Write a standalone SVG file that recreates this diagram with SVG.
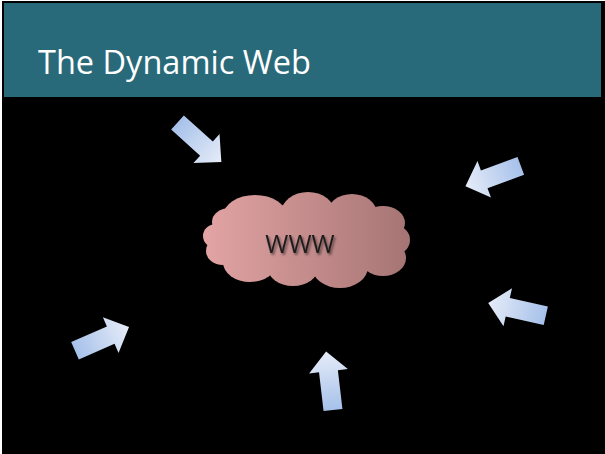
<svg xmlns="http://www.w3.org/2000/svg" width="605" height="454" viewBox="0 0 605 454">
  <defs>
    <linearGradient id="cloudGrad" gradientUnits="userSpaceOnUse" x1="203" y1="0" x2="410" y2="0">
      <stop offset="0" stop-color="#e3a4a4"/>
      <stop offset="1" stop-color="#a67474"/>
    </linearGradient>
    <linearGradient id="arrowGrad" x1="0" y1="0" x2="1" y2="0">
      <stop offset="0" stop-color="#a6c1ea"/>
      <stop offset="1" stop-color="#e6ecf8"/>
    </linearGradient>
    <filter id="txtShadow" x="-20%" y="-30%" width="150%" height="180%">
      <feDropShadow dx="1.5" dy="2" stdDeviation="1.2" flood-color="#000" flood-opacity="0.5"/>
    </filter>
    <polygon id="arrowShape" points="0,-9.5 39,-9.5 39,-19.5 59,0 39,19.5 39,9.5 0,9.5"/>
  </defs>
  <style>
    .title { font-family: "Open Sans", "Liberation Sans", sans-serif; font-size: 32.5px; fill: #ffffff; }
    .label { font-family: "Open Sans", "Liberation Sans", sans-serif; font-size: 25px; fill: #1e1e1e; }
    .arrow { fill: url(#arrowGrad); }
  </style>

  <rect x="0" y="0" width="605" height="454" fill="#ffffff"/>
  <rect x="2" y="1" width="603" height="453" fill="#000000"/>
  <rect x="4" y="3" width="597" height="94" fill="#296a7a"/>

  <g id="title">
    <text class="title" x="38" y="74">The Dynamic Web</text>
  </g>

  <g id="cloud">
    <g fill="url(#cloudGrad)">
      <ellipse cx="306" cy="240" rx="90" ry="36"/>
      <ellipse cx="255" cy="216" rx="32" ry="21"/>
      <ellipse cx="308" cy="213" rx="27" ry="21"/>
      <ellipse cx="352" cy="214" rx="25" ry="20"/>
      <ellipse cx="383" cy="223" rx="22" ry="17"/>
      <ellipse cx="396" cy="240" rx="14" ry="14"/>
      <ellipse cx="383" cy="258" rx="23" ry="18"/>
      <ellipse cx="340" cy="267" rx="28" ry="21"/>
      <ellipse cx="293" cy="266" rx="26" ry="20"/>
      <ellipse cx="250" cy="262" rx="27" ry="20"/>
      <ellipse cx="223" cy="251" rx="17" ry="14"/>
      <ellipse cx="216" cy="236" rx="13" ry="12"/>
      <ellipse cx="230" cy="222" rx="18" ry="14"/>
    </g>
    <text class="label" x="300" y="253" text-anchor="middle" filter="url(#txtShadow)">WWW</text>
  </g>

  <g id="connectors">
    <use href="#arrowShape" class="arrow" transform="translate(177.5,122.5) rotate(42)"/>
    <use href="#arrowShape" class="arrow" transform="translate(520.8,165.8) rotate(159.7)"/>
    <use href="#arrowShape" class="arrow" transform="translate(75,350.8) rotate(-23.7)"/>
    <use href="#arrowShape" class="arrow" transform="translate(545.8,315.8) rotate(192.6)"/>
    <use href="#arrowShape" class="arrow" transform="translate(333,410) rotate(-96.7)"/>
  </g>
</svg>
